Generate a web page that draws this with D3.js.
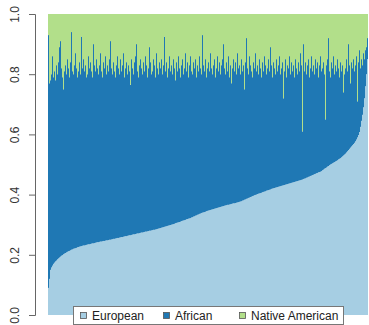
<!DOCTYPE html>
<html>
<head>
<meta charset="utf-8">
<script src="https://cdn.jsdelivr.net/npm/d3@7"></script>
<style>
  body { margin: 0; background: #fff; }
  svg { display: block; font-family: "Liberation Sans", Arial, sans-serif; }
</style>
</head>
<body>
<script>
'use strict';

// ancestry groups, in stacking order (bottom to top)
const groups = ["European", "African", "Native American"];
const colors = ["#a6cee3", "#1f78b4", "#b2df8a"];
const yTicks = [0.0, 0.2, 0.4, 0.6, 0.8, 1.0];

// European proportion per individual (sorted)
const european = [
  0.090, 0.120, 0.150, 0.158, 0.164, 0.170, 0.174, 0.178, 0.181, 0.185, 0.188, 0.191, 0.194, 0.197, 0.199, 0.202,
  0.204, 0.206, 0.208, 0.210, 0.212, 0.213, 0.215, 0.217, 0.218, 0.220, 0.221, 0.222, 0.223, 0.225, 0.226, 0.227,
  0.228, 0.229, 0.230, 0.231, 0.231, 0.232, 0.233, 0.234, 0.235, 0.235, 0.236, 0.237, 0.238, 0.238, 0.239, 0.240,
  0.241, 0.242, 0.242, 0.243, 0.244, 0.244, 0.245, 0.246, 0.246, 0.247, 0.248, 0.248, 0.249, 0.250, 0.250, 0.251,
  0.252, 0.253, 0.253, 0.254, 0.255, 0.256, 0.256, 0.257, 0.258, 0.259, 0.259, 0.260, 0.261, 0.262, 0.262, 0.263,
  0.264, 0.265, 0.265, 0.266, 0.267, 0.268, 0.268, 0.269, 0.270, 0.271, 0.271, 0.272, 0.273, 0.274, 0.274, 0.275,
  0.276, 0.277, 0.277, 0.278, 0.279, 0.280, 0.280, 0.281, 0.282, 0.283, 0.283, 0.284, 0.285, 0.286, 0.287, 0.288,
  0.289, 0.290, 0.291, 0.292, 0.293, 0.294, 0.295, 0.296, 0.297, 0.298, 0.299, 0.300, 0.301, 0.302, 0.303, 0.305,
  0.306, 0.307, 0.308, 0.309, 0.310, 0.312, 0.313, 0.314, 0.315, 0.316, 0.318, 0.319, 0.320, 0.321, 0.322, 0.324,
  0.325, 0.327, 0.328, 0.330, 0.331, 0.333, 0.334, 0.336, 0.337, 0.339, 0.340, 0.341, 0.342, 0.343, 0.345, 0.346,
  0.347, 0.348, 0.349, 0.350, 0.351, 0.352, 0.353, 0.354, 0.355, 0.356, 0.357, 0.358, 0.359, 0.360, 0.361, 0.362,
  0.363, 0.364, 0.365, 0.366, 0.366, 0.367, 0.368, 0.369, 0.370, 0.371, 0.371, 0.372, 0.373, 0.374, 0.375, 0.376,
  0.377, 0.378, 0.380, 0.381, 0.383, 0.384, 0.386, 0.387, 0.389, 0.390, 0.392, 0.393, 0.395, 0.396, 0.398, 0.399,
  0.400, 0.402, 0.403, 0.404, 0.405, 0.406, 0.408, 0.409, 0.410, 0.411, 0.413, 0.414, 0.415, 0.416, 0.417, 0.419,
  0.420, 0.421, 0.422, 0.423, 0.424, 0.425, 0.426, 0.427, 0.428, 0.429, 0.430, 0.431, 0.432, 0.433, 0.434, 0.435,
  0.436, 0.437, 0.438, 0.439, 0.440, 0.441, 0.442, 0.443, 0.444, 0.445, 0.446, 0.447, 0.448, 0.449, 0.450, 0.452,
  0.453, 0.454, 0.456, 0.457, 0.459, 0.460, 0.462, 0.463, 0.465, 0.466, 0.468, 0.469, 0.471, 0.472, 0.474, 0.475,
  0.476, 0.478, 0.481, 0.483, 0.486, 0.488, 0.490, 0.493, 0.495, 0.498, 0.500, 0.502, 0.504, 0.506, 0.508, 0.510,
  0.512, 0.514, 0.517, 0.519, 0.521, 0.524, 0.527, 0.530, 0.533, 0.536, 0.540, 0.544, 0.548, 0.552, 0.556, 0.560,
  0.564, 0.568, 0.572, 0.577, 0.583, 0.590, 0.598, 0.608, 0.625, 0.645, 0.665, 0.690, 0.720, 0.760, 0.800, 0.850
];

// Native American proportion per individual
const nativeAmerican = [
  0.07, 0.23, 0.22, 0.20, 0.14, 0.21, 0.19, 0.22, 0.17, 0.20, 0.16, 0.11, 0.09, 0.18, 0.21, 0.25,
  0.19, 0.17, 0.20, 0.15, 0.18, 0.21, 0.16, 0.06, 0.19, 0.20, 0.17, 0.13, 0.18, 0.21, 0.19, 0.16,
  0.20, 0.075, 0.18, 0.15, 0.19, 0.17, 0.21, 0.20, 0.14, 0.18, 0.16, 0.19, 0.21, 0.10, 0.17, 0.19,
  0.15, 0.18, 0.20, 0.17, 0.13, 0.19, 0.21, 0.16, 0.18, 0.14, 0.20, 0.17, 0.19, 0.15, 0.09, 0.18,
  0.20, 0.16, 0.19, 0.21, 0.17, 0.14, 0.18, 0.20, 0.15, 0.19, 0.17, 0.13, 0.21, 0.18, 0.16, 0.20,
  0.17, 0.19, 0.235, 0.15, 0.18, 0.20, 0.16, 0.14, 0.10, 0.19, 0.21, 0.17, 0.15, 0.18, 0.20, 0.16,
  0.19, 0.14, 0.17, 0.21, 0.18, 0.11, 0.16, 0.20, 0.19, 0.15, 0.17, 0.21, 0.13, 0.18, 0.20, 0.16,
  0.18, 0.15, 0.20, 0.17, 0.075, 0.19, 0.16, 0.21, 0.18, 0.14, 0.19, 0.17, 0.20, 0.15, 0.18, 0.22,
  0.16, 0.19, 0.14, 0.18, 0.21, 0.17, 0.15, 0.20, 0.18, 0.13, 0.19, 0.16, 0.21, 0.17, 0.14, 0.19,
  0.20, 0.16, 0.18, 0.15, 0.21, 0.17, 0.19, 0.14, 0.18, 0.20, 0.07, 0.17, 0.19, 0.15, 0.21, 0.18,
  0.16, 0.19, 0.13, 0.18, 0.20, 0.17, 0.15, 0.21, 0.18, 0.14, 0.19, 0.16, 0.20, 0.17, 0.15, 0.10,
  0.18, 0.20, 0.16, 0.19, 0.14, 0.21, 0.17, 0.23, 0.18, 0.15, 0.19, 0.16, 0.20, 0.13, 0.18, 0.17,
  0.20, 0.15, 0.19, 0.17, 0.25, 0.16, 0.08, 0.18, 0.20, 0.14, 0.17, 0.19, 0.21, 0.16, 0.18, 0.13,
  0.19, 0.17, 0.20, 0.15, 0.18, 0.21, 0.16, 0.19, 0.14, 0.17, 0.20, 0.18, 0.15, 0.19, 0.11, 0.17,
  0.21, 0.16, 0.18, 0.20, 0.15, 0.19, 0.17, 0.14, 0.20, 0.18, 0.16, 0.28, 0.19, 0.15, 0.21, 0.17,
  0.18, 0.14, 0.20, 0.16, 0.19, 0.17, 0.21, 0.15, 0.18, 0.20, 0.16, 0.19, 0.13, 0.17, 0.39, 0.10,
  0.19, 0.16, 0.20, 0.17, 0.15, 0.21, 0.18, 0.14, 0.19, 0.17, 0.20, 0.15, 0.18, 0.16, 0.21, 0.17,
  0.14, 0.19, 0.18, 0.16, 0.20, 0.35, 0.17, 0.15, 0.08, 0.19, 0.21, 0.16, 0.18, 0.14, 0.20, 0.17,
  0.19, 0.15, 0.18, 0.21, 0.16, 0.19, 0.17, 0.26, 0.20, 0.18, 0.15, 0.19, 0.10, 0.17, 0.23, 0.16,
  0.18, 0.15, 0.19, 0.17, 0.14, 0.29, 0.16, 0.12, 0.18, 0.15, 0.17, 0.13, 0.15, 0.12, 0.11, 0.08
];

const width = 369, height = 325;
const plotLeft = 48, plotRight = 368, plotTop = 14, plotBottom = 315;

const svg = d3.select('body')
  .append('svg')
  .attr('width', width)
  .attr('height', height);

// build rows; African is whatever is left
let rows = european.map((e, i) => ({
  id: i,
  "European": e,
  "Native American": nativeAmerican[i],
  "African": 1 - e - nativeAmerican[i]
}));

let xScale = d3.scaleBand()
  .domain(rows.map(d => d.id))
  .range([plotLeft, plotRight])
  .padding(0);

let yScale = d3.scaleLinear()
  .domain([0, 1])
  .range([plotBottom, plotTop]);

let series = d3.stack().keys(groups)(rows);

svg.append('g')
  .selectAll('g')
  .data(series)
  .enter()
  .append('g')
  .attr('fill', (d, i) => colors[i])
  .selectAll('rect')
  .data(d => d)
  .enter()
  .append('rect')
  .attr('x', d => xScale(d.data.id))
  .attr('y', d => yScale(d[1]))
  .attr('width', xScale.bandwidth())
  .attr('height', d => yScale(d[0]) - yScale(d[1]));

// y axis, R style
let yAxis = d3.axisLeft(yScale)
  .tickValues(yTicks)
  .tickFormat(d3.format('.1f'))
  .tickSize(6)
  .tickPadding(4);

let axisG = svg.append('g')
  .attr('transform', 'translate(35,0)')
  .call(yAxis);

axisG.select('.domain').attr('stroke', '#666');
axisG.selectAll('.tick line').attr('stroke', '#666');
axisG.selectAll('.tick text')
  .attr('font-size', 12)
  .attr('fill', '#333')
  .attr('x', 0)
  .attr('dy', 0)
  .attr('text-anchor', 'middle')
  .attr('transform', 'translate(-16,0) rotate(-90)');

// legend
let legend = svg.append('g');
legend.append('rect')
  .attr('x', 73.5)
  .attr('y', 306.5)
  .attr('width', 270)
  .attr('height', 18)
  .attr('fill', 'white')
  .attr('stroke', '#777');

let legendX = [80, 163, 239];
groups.forEach((g, i) => {
  legend.append('rect')
    .attr('x', legendX[i] + 0.5)
    .attr('y', 312.5)
    .attr('width', 6)
    .attr('height', 6)
    .attr('fill', colors[i])
    .attr('stroke', '#555')
    .attr('stroke-width', 0.8);
  legend.append('text')
    .attr('x', legendX[i] + 12)
    .attr('y', 320)
    .attr('font-size', 12)
    .attr('fill', '#222')
    .text(g);
});
</script>
</body>
</html>
